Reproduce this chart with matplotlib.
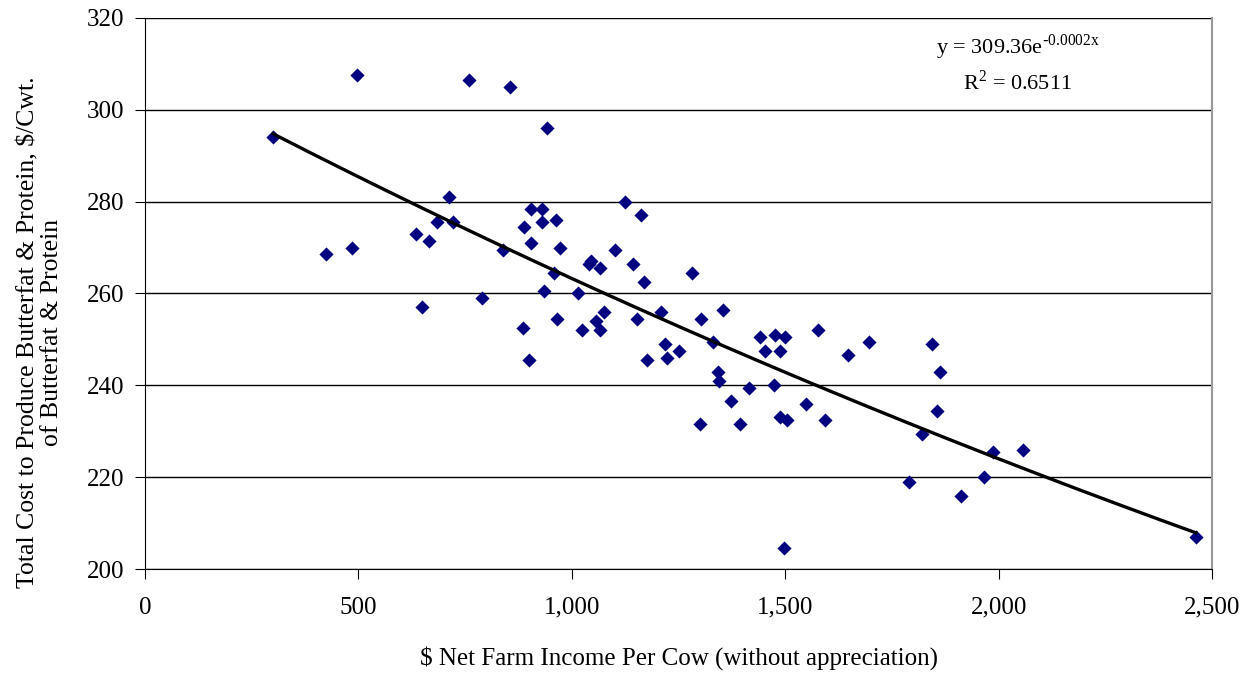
import numpy as np
import matplotlib
matplotlib.use('Agg')
import matplotlib.pyplot as plt

# net farm income per cow ($) vs. cost to produce butterfat & protein ($/cwt)
income = [300, 425, 485, 497, 635, 648, 665, 685, 713, 722, 760, 790, 838, 855,
          885, 888, 900, 905, 905, 930, 930, 935, 943, 958, 962, 965, 973, 1015,
          1025, 1040, 1045, 1057, 1065, 1065, 1075, 1102, 1124, 1144, 1153, 1161,
          1168, 1175, 1210, 1218, 1222, 1252, 1281, 1300, 1303, 1330, 1342, 1345,
          1355, 1373, 1395, 1415, 1440, 1452, 1473, 1475, 1487, 1487, 1498, 1500,
          1503, 1548, 1576, 1592, 1646, 1697, 1789, 1820, 1843, 1855, 1863, 1912,
          1965, 1987, 2058, 2462]
cost = [294, 268.5, 270, 307.5, 273, 257, 271.5, 275.5, 281, 275.5, 306.5, 259,
        269.5, 305, 252.5, 274.5, 245.5, 278.5, 271, 278.5, 275.5, 260.5, 296,
        264.5, 276, 254.5, 270, 260, 252, 266.5, 267, 254, 252, 265.5, 256, 269.5,
        280, 266.5, 254.5, 277, 262.5, 245.5, 256, 249, 246, 247.5, 264.5, 231.5,
        254.5, 249.5, 243, 241, 256.5, 236.5, 231.5, 239.5, 250.5, 247.5, 240,
        251, 247.5, 233, 204.5, 250.5, 232.5, 236, 252, 232.5, 246.5, 249.5, 219,
        229.5, 249, 234.5, 243, 216, 220, 225.5, 226, 207]

xticklabels = ['0', '500', '1,000', '1,500', '2,000', '2,500']

x = np.array(income)
y = np.array(cost)

# exponential trend (fit on log y)
b, ln_a = np.polyfit(x, np.log(y), 1)
xs = np.linspace(x.min(), x.max(), 200)
ys = np.exp(ln_a) * np.exp(b * xs)

plt.rcParams['font.family'] = ['Liberation Serif', 'DejaVu Serif']

fig = plt.figure(figsize=(12.54, 6.73), dpi=100)
ax = fig.add_axes([0.1156, 0.1545, 0.851, 0.8188])

ax.scatter(x, y, marker='D', s=52, color='#000080', zorder=3, linewidths=0)
ax.plot(xs, ys, color='black', lw=2.4, zorder=4)

ax.set_xlim(0, 2500)
ax.set_ylim(200, 320)
ax.set_xticks([0, 500, 1000, 1500, 2000, 2500])
ax.set_xticklabels(xticklabels)
ax.set_yticks(range(200, 321, 20))
ax.yaxis.grid(True, color='black', lw=1)
ax.set_axisbelow(True)

ax.spines['top'].set_visible(False)
ax.spines['right'].set_color('#999999')
ax.spines['right'].set_linewidth(1.5)
ax.tick_params(axis='both', direction='out', length=7, labelsize=18, pad=8)
ax.tick_params(axis='x', pad=13)

ax.set_xlabel('$ Net Farm Income Per Cow (without appreciation)', fontsize=18, labelpad=20)
ax.set_ylabel('Total Cost to Produce Butterfat & Protein, $/Cwt.\nof Butterfat & Protein',
              fontsize=18.5, linespacing=1.05)
ax.yaxis.set_label_coords(-0.077, 0.43)

ax.text(2045, 313.6, r'y = 309.36e$^{\mathregular{\text{-}0.0002x}}$', fontsize=16, ha='center', va='center')
ax.text(2045, 305.9, r'R$^{\mathregular{2}}$ = 0.6511', fontsize=16, ha='center', va='center')

plt.savefig('out.png', dpi=100)
